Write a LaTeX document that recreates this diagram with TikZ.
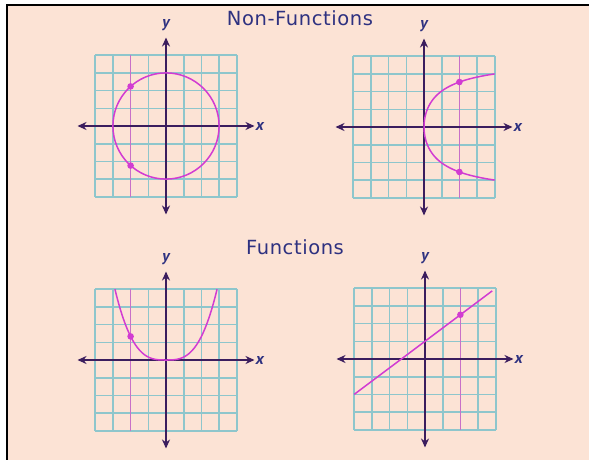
\documentclass[tikz,border=0pt]{standalone}
\usepackage{fontspec}
\setmainfont{PT Sans}
\newfontfamily\titlefont[LetterSpace=3]{DejaVu Sans}
\usetikzlibrary{arrows.meta}
\definecolor{bg}{HTML}{FCE3D5}
\definecolor{gridc}{HTML}{8EC6CC}
\definecolor{axisc}{HTML}{3B1D5E}
\definecolor{curvec}{HTML}{D23CD2}
\definecolor{vlinec}{HTML}{C870C8}
\definecolor{titlec}{HTML}{2E3180}
\begin{document}
\begin{tikzpicture}[x=1pt,y=-1pt,
 gridline/.style={gridc, line width=1.6pt},
 axisline/.style={axisc, line width=1.6pt, {Stealth[length=9pt,width=8pt]}-{Stealth[length=9pt,width=8pt]}},
 curve/.style={curvec, line width=1.5pt},
 vline/.style={vlinec, line width=1.1pt},
 dotpt/.style={curvec},
 axlabel/.style={font=\fontsize{16}{16}\selectfont\itshape\bfseries, text=titlec, inner sep=0pt},
 title/.style={font=\titlefont\fontsize{19.5}{21}\selectfont, text=titlec, inner sep=0pt},
 graphframe/.pic={
   \foreach \i in {-4,...,4} {
     \draw[gridline] (\i,-4) -- (\i,4);
     \draw[gridline] (-4,\i) -- (4,\i);
   }
 },
 graphaxes/.pic={
   \draw[axisline] (-5,0) -- (5,0);
   \draw[axisline] (0,-5) -- (0,5);
   \node[axlabel] (-x) at (5.3,0) {x};
   \node[axlabel] (-y) at (0,5.7) {y};
 }]
\useasboundingbox (0,0) rectangle (589,460);
\fill[white] (0,0) rectangle (589,460);
\fill[bg] (7,5) rectangle (589,460);
\draw[black, line width=2pt] (7,460) -- (7,5) -- (589,5);

\node[title, anchor=base] (t1) at (300,25.7) {Non-Functions};
\node[title, anchor=base] (t2) at (295,254.3) {Functions};

% graph 1: circle
\begin{scope}[shift={(166,126)}, x=17.7pt, y=17.7pt]
 \pic (g1) at (0,0) {graphframe};
 \draw[vline] (-2,-4) -- (-2,4);
 \pic (g1) at (0,0) {graphaxes};
 \draw[curve] (0,0) circle [radius=3];
 \fill[dotpt] (-2,2.236) circle (3.3pt);
 \fill[dotpt] (-2,-2.236) circle (3.3pt);
\end{scope}

% graph 2: sideways curve
\begin{scope}[shift={(424,127)}, x=17.7pt, y=17.7pt]
 \pic (g2) at (0,0) {graphframe};
 \draw[vline] (2,-4) -- (2,4);
 \pic (g2) at (0,0) {graphaxes};
 \draw[curve] plot[domain=-3:3, samples=90, variable=\t] ({2.61*\t*\t/(14.88-\t*\t)}, \t);
 \fill[dotpt] (2,2.541) circle (3.3pt);
 \fill[dotpt] (2,-2.541) circle (3.3pt);
\end{scope}

% graph 3: U-shaped curve
\begin{scope}[shift={(166,360)}, x=17.7pt, y=17.7pt]
 \pic (g3) at (0,0) {graphframe};
 \draw[vline] (-2,-4) -- (-2,4);
 \pic (g3) at (0,0) {graphaxes};
 \draw[curve] plot[domain=-2.884:2.884, samples=90, variable=\t] (\t, {abs(\t)*\t*\t/6});
 \fill[dotpt] (-2,1.333) circle (3.3pt);
\end{scope}

% graph 4: line
\begin{scope}[shift={(425,359)}, x=17.7pt, y=17.7pt]
 \pic (g4) at (0,0) {graphframe};
 \draw[vline] (2,-4) -- (2,4);
 \pic (g4) at (0,0) {graphaxes};
 \draw[curve] (-4,-2) -- (3.8,3.85);
 \fill[dotpt] (2,2.5) circle (3.3pt);
\end{scope}
\end{tikzpicture}
\end{document}
